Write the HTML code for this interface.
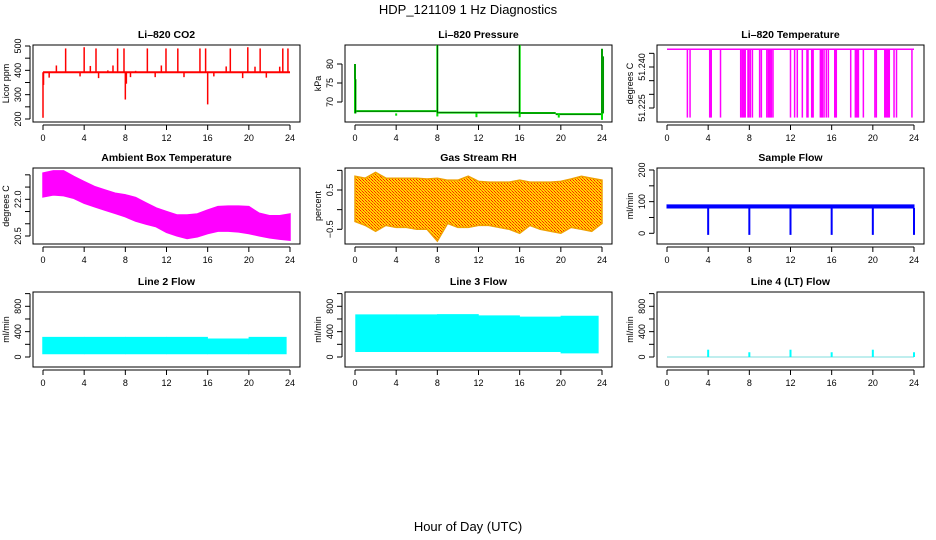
<!DOCTYPE html>
<html><head><meta charset="utf-8">
<style>
html,body{margin:0;padding:0;background:#fff;}
svg{display:block;font-family:"Liberation Sans",sans-serif;}
</style></head>
<body>
<svg id="chart" width="936" height="540" viewBox="0 0 936 540" xmlns="http://www.w3.org/2000/svg">
<defs>
<pattern id="rhpat" width="3" height="3" patternUnits="userSpaceOnUse">
<rect width="3" height="3" fill="#ffd800"/><rect width="1" height="1" fill="#ff2000"/><rect x="1" y="1" width="1" height="1" fill="#ff6000"/><rect x="2" y="2" width="1" height="1" fill="#ff2000"/>
</pattern>
</defs>
<text x="468" y="14" text-anchor="middle" font-size="13">HDP_121109  1 Hz Diagnostics</text>
<text x="468" y="531" text-anchor="middle" font-size="13">Hour of Day (UTC)</text>
</svg>
<script>
// ---- data ----
const xTicks = [0,4,8,12,16,20,24];
const hours = [0,1,2,3,4,5,6,7,8,9,10,11,12,13,14,15,16,17,18,19,20,21,22,23,24];
// CO2
const co2Base = 392;
const co2SpikeHours = [2.2,4.0,5.15,7.25,7.87,10.14,11.95,13.1,15.25,15.8,18.2,19.9,21.1,23.3,23.8];
const co2SpikeVals  = [490,495,490,490,490,490,490,490,490,490,490,495,490,490,490];
const co2SmallHours = [0.6,1.3,3.6,4.6,5.4,6.3,6.8,8.5,9.0,10.9,11.5,13.7,14.5,16.6,17.8,19.4,20.6,21.7,23.0];
const co2SmallVals  = [370,420,375,418,368,400,420,372,398,372,420,372,395,375,416,368,415,370,415];
const co2DipHours = [0.0,0.05,8.0,8.1,16.0];
const co2DipVals  = [205,340,280,345,260];
// Pressure
const presSegStart = [0,8,16,19.5];
const presSegEnd   = [8,16,19.5,24];
const presSegVal   = [67.6,67.2,67.1,66.8];
const presSpikeHours = [0,0.05,8,16,24,24.1];
const presSpikeVals  = [80,76,85,85,84,82];
const presDipHours = [4,8,11.8,16,19.8,24];
const presDipVals  = [66.4,66.2,66.0,66.0,65.9,65.3];
// Li-820 Temperature
const tempTop = 51.2465;
const tempLow = 51.2215;
const tempDrops = [1.98,2.24,4.15,4.22,4.3,5.2,7.16,7.3,7.4,7.5,7.6,7.87,7.95,8.1,8.3,9.0,9.17,9.7,9.85,9.95,10.05,10.15,10.3,12.0,12.4,12.66,13.15,13.6,13.7,14.06,14.15,14.2,14.9,15.0,15.1,15.26,15.48,15.68,16.3,16.38,16.45,17.85,18.3,18.4,18.5,18.6,19.08,20.2,20.34,21.16,21.3,21.4,21.5,21.6,22.06,22.3,23.8];
// Ambient box temperature
const ambHi = [23.07,23.16,23.16,22.93,22.72,22.52,22.38,22.25,22.18,22.07,21.85,21.64,21.5,21.36,21.36,21.4,21.56,21.7,21.72,21.72,21.7,21.43,21.33,21.33,21.4];
const ambLo = [22.1,22.18,22.15,22.04,21.84,21.7,21.56,21.43,21.29,21.11,20.99,20.88,20.65,20.51,20.4,20.47,20.6,20.7,20.7,20.67,20.6,20.51,20.43,20.37,20.33];
// Gas stream RH
const rhHi = [0.85,0.8,0.95,0.8,0.8,0.8,0.8,0.78,0.8,0.75,0.75,0.85,0.72,0.7,0.7,0.7,0.75,0.7,0.7,0.7,0.72,0.78,0.85,0.8,0.75];
const rhLo = [-0.3,-0.4,-0.55,-0.4,-0.45,-0.45,-0.5,-0.5,-0.8,-0.35,-0.45,-0.45,-0.4,-0.4,-0.45,-0.5,-0.6,-0.4,-0.5,-0.55,-0.6,-0.45,-0.5,-0.55,-0.35];
// Sample flow
const sfHi = 90, sfLo = 80;
const sfDipHours = [4,8,12,16,20,24];
const sfDipVals  = [-5,-5,-5,-5,-5,-5];
// Line 2 flow
const l2SegStart = [0,4.05,8.05,12.05,16.05,20.05];
const l2SegEnd   = [3.95,7.95,11.95,15.95,19.95,23.6];
const l2Hi = [305,305,305,305,280,305];
const l2Lo = [55,55,55,55,55,55];
// Line 3 flow
const l3SegStart = [0.1,4.05,8.05,12.05,16.05,20.05];
const l3SegEnd   = [3.95,7.95,11.95,15.95,19.95,23.6];
const l3Hi = [660,660,665,645,625,640];
const l3Lo = [90,90,90,90,90,70];
// Line 4 flow
const l4Base = 0;
const l4SpikeHours = [4,8,12,16,20,24];
const l4SpikeVals  = [115,75,115,75,115,75];

// ---- layout ----
const svg = document.getElementById('chart');
const NS = 'http://www.w3.org/2000/svg';
const colL = [33,345,657], colR=[300,612,924], colX0=[43,355,667];
const rowT = [45,168,292], rowB=[122,244,367];
function mk(tag, attrs, parent){
  const e=document.createElementNS(NS,tag);
  for(const k in attrs) e.setAttribute(k,attrs[k]);
  (parent||svg).appendChild(e); return e;
}
function panel(c,r,title,ytitle,yA,pA,yB,pB,ticks,labels,name){
  const g=mk('g',{});
  
  
  const sx=h=>colX0[c]+h*247/24;
  const sy=v=>pA+(v-yA)*(pB-pA)/(yB-yA);
  const L=colL[c],R=colR[c],T=rowT[r],B=rowB[r];
  const box=mk('rect',{x:L,y:T,width:R-L,height:B-T,fill:'none',stroke:'#000','stroke-width':1},g);
  
  
  const t=mk('text',{x:(L+R)/2,y:T-7,'text-anchor':'middle','font-size':10.5,'font-weight':'bold'},g);
  t.textContent=title;
  
  
  const xa=mk('g',{},g);
  
  
  mk('line',{x1:sx(0),x2:sx(24),y1:B+3,y2:B+3,stroke:'#000'},xa);
  xTicks.forEach(h=>{
    mk('line',{x1:sx(h),x2:sx(h),y1:B+3,y2:B+8,stroke:'#000'},xa);
    const tl=mk('text',{x:sx(h),y:B+19,'text-anchor':'middle','font-size':9},xa);
    tl.textContent=h;
  });
  const ya=mk('g',{},g);
  
  
  mk('line',{x1:L-3,x2:L-3,y1:sy(ticks[0]),y2:sy(ticks[ticks.length-1]),stroke:'#000'},ya);
  ticks.forEach((v,i)=>{
    mk('line',{x1:L-3,x2:L-8,y1:sy(v),y2:sy(v),stroke:'#000'},ya);
    if(labels[i]!==''){
      const tl=mk('text',{x:L-12,y:sy(v),'text-anchor':'middle','font-size':9,transform:`rotate(-90 ${L-12} ${sy(v)})`},ya);
      tl.textContent=labels[i];
    }
  });
  const yt=mk('text',{x:L-24,y:(T+B)/2,'text-anchor':'middle','font-size':9,transform:`rotate(-90 ${L-24} ${(T+B)/2})`},g);
  yt.textContent=ytitle;
  
  
  const s=mk('g',{},g);
  
  
  return {sx,sy,s};
}
function vline(p,h,v1,v2,col,w){ mk('line',{x1:p.sx(h),x2:p.sx(h),y1:p.sy(v1),y2:p.sy(v2),stroke:col,'stroke-width':w||1},p.s); }
function hline(p,h1,h2,v,col,w){ mk('line',{x1:p.sx(h1),x2:p.sx(h2),y1:p.sy(v),y2:p.sy(v),stroke:col,'stroke-width':w||1},p.s); }
function band(p,hs,hi,lo,fill,sw){
  let pts=hs.map((h,i)=>p.sx(h)+','+p.sy(hi[i]));
  for(let i=hs.length-1;i>=0;i--) pts.push(p.sx(hs[i])+','+p.sy(lo[i]));
  mk('polygon',{points:pts.join(' '),fill:fill,stroke:fill==='url(#rhpat)'?'#f0a000':fill,'stroke-width':sw||1.5},p.s);
}

let p=panel(0,0,'Li\u2013820 CO2','Licor ppm',500,46,200,119,[200,250,300,350,400,450,500],['200','','300','','400','','500'],'co2');
hline(p,0,24,co2Base,'#ff0000',2);
co2SpikeHours.forEach((h,i)=>vline(p,h,co2Base,co2SpikeVals[i],'#ff0000',1.5));
co2SmallHours.forEach((h,i)=>vline(p,h,co2Base,co2SmallVals[i],'#ff0000',1.5));
co2DipHours.forEach((h,i)=>vline(p,h,co2Base,co2DipVals[i],'#ff0000',1.5));

p=panel(1,0,'Li\u2013820 Pressure','kPa',80,64,70,102,[70,75,80],['70','75','80'],'pressure');
presSegStart.forEach((s,i)=>hline(p,s,presSegEnd[i],presSegVal[i],'#00e000',2));
presSegStart.forEach((s,i)=>hline(p,s,presSegEnd[i],presSegVal[i],'#000',0.5));
presSpikeHours.forEach((h,i)=>{vline(p,h,67,presSpikeVals[i],'#00e000',2);vline(p,h,67,presSpikeVals[i],'#000',0.6);});
presDipHours.forEach((h,i)=>vline(p,h,67,presDipVals[i],'#00e000',2));

p=panel(2,0,'Li\u2013820 Temperature','degrees C',51.225,108,51.240,67,[51.225,51.230,51.235,51.240,51.245],['51.225','','','51.240',''],'li820-temp');
hline(p,0,24,tempTop,'#ff00ff',1.5);
tempDrops.forEach(h=>vline(p,h,tempTop,tempLow,'#ff00ff',1.5));

p=panel(0,1,'Ambient Box Temperature','degrees C',22.0,199.3,20.5,236,[20.5,21.0,21.5,22.0,22.5,23.0],['20.5','','','22.0','',''],'ambient-temp');
band(p,hours,ambHi,ambLo,'#ff00ff');

p=panel(1,1,'Gas Stream RH','percent',0.5,190,-0.5,229.3,[-0.5,0,0.5,1.0],['\u22120.5','','0.5',''],'gas-rh');
band(p,hours,rhHi,rhLo,'url(#rhpat)');

p=panel(2,1,'Sample Flow','ml/min',200,170,0,233.3,[0,50,100,150,200],['0','','100','','200'],'sample-flow');
band(p,[0,24],[sfHi,sfHi],[sfLo,sfLo],'#0000ff',1);
sfDipHours.forEach((h,i)=>vline(p,h,sfLo,sfDipVals[i],'#0000ff',2));

p=panel(0,2,'Line 2 Flow','ml/min',0,357,800,306.3,[0,200,400,600,800,1000],['0','','400','','800',''],'line2-flow');
l2SegStart.forEach((s,i)=>band(p,[s,l2SegEnd[i]],[l2Hi[i],l2Hi[i]],[l2Lo[i],l2Lo[i]],'#00ffff'));

p=panel(1,2,'Line 3 Flow','ml/min',0,357,800,306.3,[0,200,400,600,800,1000],['0','','400','','800',''],'line3-flow');
l3SegStart.forEach((s,i)=>band(p,[s,l3SegEnd[i]],[l3Hi[i],l3Hi[i]],[l3Lo[i],l3Lo[i]],'#00ffff'));

p=panel(2,2,'Line 4 (LT) Flow','ml/min',0,357,800,306.3,[0,200,400,600,800,1000],['0','','400','','800',''],'line4-flow');
hline(p,0,24,l4Base,'#7fdede',1);
l4SpikeHours.forEach((h,i)=>vline(p,h,l4Base,l4SpikeVals[i],'#00ffff',2));
</script>
</body></html>
